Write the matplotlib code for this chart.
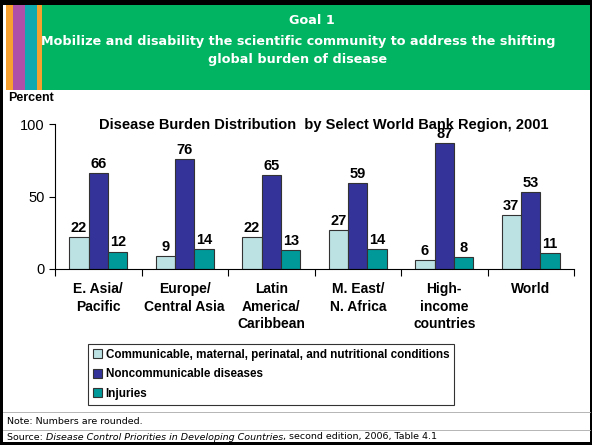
import numpy as np
import matplotlib
matplotlib.use("Agg")
from matplotlib import pyplot as plt
from matplotlib.patches import Rectangle
from matplotlib.lines import Line2D

# data
regions = ["E. Asia/\nPacific", "Europe/\nCentral Asia", "Latin\nAmerica/\nCaribbean",
           "M. East/\nN. Africa", "High-\nincome\ncountries", "World"]
communicable = [22, 9, 22, 27, 6, 37]
noncommunicable = [66, 76, 65, 59, 87, 53]
injuries = [12, 14, 13, 14, 8, 11]
series_names = ["Communicable, maternal, perinatal, and nutritional conditions",
                "Noncommunicable diseases", "Injuries"]
colors = ["#bde2e4", "#333399", "#009999"]

plt.rcParams["font.family"] = ["Liberation Sans", "DejaVu Sans"]

W, H = 592, 445
fig = plt.figure(figsize=(W / 100, H / 100), dpi=100)


def px(x, y):
    # pixel (from top-left) to figure fraction
    return x / W, 1 - y / H


def rect(x0, y0, x1, y1, color):
    fx, fy = px(x0, y1)
    fig.add_artist(Rectangle((fx, fy), (x1 - x0) / W, (y1 - y0) / H,
                             transform=fig.transFigure, color=color, lw=0, zorder=0))


# frame and header
rect(0, 0, W, 5, "black")
rect(0, 0, 3, H, "black")
rect(590, 0, W, H, "black")
rect(0, 442, W, H, "black")
rect(6, 5, 13, 90, "#f7a030")
rect(13, 5, 25, 90, "#b04fa8")
rect(25, 5, 37, 90, "#10a9b0")
rect(37, 5, 42, 90, "#f7a030")
rect(42, 5, 590, 90, "#00b461")

hdr = dict(color="white", fontsize=9.2, fontweight="bold", ha="center", va="center",
           family="DejaVu Sans")
fig.text(*px(312, 20), "Goal 1", **hdr)
fig.text(*px(298, 42), "Mobilize and disability the scientific community to address the shifting",
         **hdr)
fig.text(*px(298, 60), "global burden of disease", **hdr)

fig.text(*px(8, 98), "Percent", fontsize=9, fontweight="bold", va="center")

# chart axes
x0, x1, ytop, ybot = 55, 574, 124, 269
ax = fig.add_axes([x0 / W, 1 - ybot / H, (x1 - x0) / W, (ybot - ytop) / H])
x = np.arange(len(regions))
w = 0.225
all_series = [communicable, noncommunicable, injuries]
for i, vals in enumerate(all_series):
    ax.bar(x + (i - 1) * w, vals, w, color=colors[i], edgecolor="#333333", linewidth=0.8,
           label=series_names[i])
    for xi, v in zip(x + (i - 1) * w, vals):
        ax.text(xi, v + 1.5, str(v), ha="center", va="bottom", fontsize=10.5, fontweight="bold")

ax.set_xlim(-0.5, len(regions) - 0.5)
ax.set_ylim(0, 100)
ax.set_yticks([0, 50, 100])
ax.tick_params(axis="y", labelsize=10.5, length=4, direction="out")
ax.set_xticks(np.arange(len(regions) + 1) - 0.5)
ax.set_xticklabels([])
ax.tick_params(axis="x", length=5, direction="out")
for s in ["top", "right"]:
    ax.spines[s].set_visible(False)
for xi, lab in zip(x, regions):
    ax.text(xi, -9, lab, ha="center", va="top", fontsize=10, fontweight="bold",
            linespacing=1.32)

fig.text(*px(324, 125), "Disease Burden Distribution  by Select World Bank Region, 2001",
         fontsize=10.5, fontweight="bold", ha="center", va="center")

handles = [Rectangle((0, 0), 1, 1, facecolor=c, edgecolor="#333333", lw=0.8) for c in colors]
leg = fig.legend(handles, series_names, loc="upper left", bbox_to_anchor=px(88, 344),
                 frameon=True, fancybox=False, edgecolor="black",
                 prop={"weight": "bold", "size": 8.4}, handlelength=0.8, handleheight=0.8,
                 handletextpad=0.3, borderpad=0.4, labelspacing=0.65, borderaxespad=0)
leg.get_frame().set_linewidth(0.8)

# footer
fig.add_artist(Line2D([3 / W, 590 / W], [1 - 412 / H] * 2, color="#aaaaaa", lw=0.6))
fig.add_artist(Line2D([3 / W, 590 / W], [1 - 430 / H] * 2, color="#aaaaaa", lw=0.6))
foot = dict(fontsize=6.8, va="center", family="DejaVu Sans")
fig.text(*px(7, 421), "Note: Numbers are rounded.", **foot)

fig.canvas.draw()
renderer = fig.canvas.get_renderer()
xpos = 7
for part, st in [("Source: ", "normal"),
                 ("Disease Control Priorities in Developing Countries", "italic"),
                 (", second edition, 2006, Table 4.1", "normal")]:
    t = fig.text(*px(xpos, 437), part, style=st, **foot)
    xpos += t.get_window_extent(renderer).width

fig.savefig("out.png", dpi=100)
